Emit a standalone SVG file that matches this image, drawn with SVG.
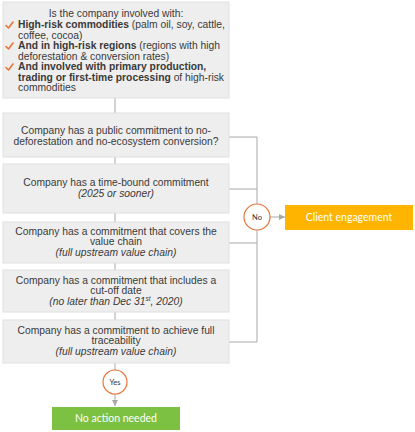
<svg xmlns="http://www.w3.org/2000/svg" width="415" height="432" viewBox="0 0 415 432">
<defs>
<style>
.box{fill:#eeeeee;stroke:#e0e0e0;stroke-width:1}
.t{font-family:"Liberation Sans",Arial,sans-serif;font-size:10.3px;fill:#3a3a3a}
.c{text-anchor:middle}
.b{font-weight:bold}
.i{font-style:italic}
.ln{stroke:#a8a8a8;stroke-width:1;fill:none}
.ck{stroke:#e8743b;stroke-width:1.6;fill:none;stroke-linecap:round;stroke-linejoin:round}
.circ{fill:#ffffff;stroke:#e8743b;stroke-width:1.2}
.lab{font-family:Lato,"Open Sans",sans-serif;font-size:7.5px;fill:#333;text-anchor:middle}
.w{font-family:Lato,"Open Sans",sans-serif;font-size:10.5px;fill:#ffffff;text-anchor:middle}
</style>
<marker id="ah" viewBox="0 0 10 10" refX="10" refY="5" markerWidth="6" markerHeight="6" orient="auto"><path d="M0,0 L10,5 L0,10 z" fill="#a8a8a8"/></marker>
</defs>
<g id="connectors">
<line class="ln" x1="115" y1="98" x2="115" y2="113"/>
<line class="ln" x1="115" y1="157" x2="115" y2="164"/>
<line class="ln" x1="115" y1="213" x2="115" y2="222"/>
<line class="ln" x1="115" y1="263" x2="115" y2="270"/>
<line class="ln" x1="115" y1="312" x2="115" y2="320"/>
<line class="ln" x1="115" y1="363" x2="115" y2="370"/>
<line class="ln" x1="115" y1="394" x2="115" y2="406" marker-end="url(#ah)"/>
<path class="ln" d="M229,137 H257 V342 H229"/>
<line class="ln" x1="229" y1="189" x2="257" y2="189"/>
<line class="ln" x1="229" y1="243" x2="257" y2="243"/>
<line class="ln" x1="270" y1="217" x2="285" y2="217" marker-end="url(#ah)"/>
</g>
<g id="q0">
<rect class="box" x="3" y="2" width="226" height="96"/>
<path class="ck" d="M6,25.5 L8.5,28 L13,22"/>
<path class="ck" d="M6,46.5 L8.5,49 L13,43"/>
<path class="ck" d="M6,67.5 L8.5,70 L13,64"/>
<text class="t c" x="116" y="17">Is the company involved with:</text>
<text class="t" x="18" y="28"><tspan class="b">High-risk commodities</tspan> (palm oil, soy, cattle,</text>
<text class="t" x="18" y="38.5">coffee, cocoa)</text>
<text class="t" x="18" y="49"><tspan class="b">And in high-risk regions</tspan> (regions with high</text>
<text class="t" x="18" y="59.5">deforestation &amp; conversion rates)</text>
<text class="t b" x="18" y="70">And involved with primary production,</text>
<text class="t" x="18" y="80.5"><tspan class="b">trading or first-time processing</tspan> of high-risk</text>
<text class="t" x="18" y="91">commodities</text>
</g>
<g id="q1">
<rect class="box" x="3" y="113" width="226" height="44"/>
<text class="t c" x="116" y="133.5">Company has a public commitment to no-</text>
<text class="t c" x="116" y="145">deforestation and no-ecosystem conversion?</text>
</g>
<g id="q2">
<rect class="box" x="3" y="164" width="226" height="49"/>
<text class="t c" x="116" y="185.5">Company has a time-bound commitment</text>
<text class="t c i" x="116" y="196.5">(2025 or sooner)</text>
</g>
<g id="q3">
<rect class="box" x="3" y="222" width="226" height="41"/>
<text class="t c" x="116" y="234.5">Company has a commitment that covers the</text>
<text class="t c" x="116" y="245">value chain</text>
<text class="t c i" x="116" y="255.5">(full upstream value chain)</text>
</g>
<g id="q4">
<rect class="box" x="3" y="270" width="226" height="42"/>
<text class="t c" x="116" y="283.5">Company has a commitment that includes a</text>
<text class="t c" x="116" y="294">cut-off date</text>
<text class="t c i" x="116" y="304.5">(no later than Dec 31<tspan font-size="6.5" dy="-3.5">st</tspan><tspan dy="3.5">, 2020)</tspan></text>
</g>
<g id="q5">
<rect class="box" x="3" y="320" width="226" height="43"/>
<text class="t c" x="116" y="333.5">Company has a commitment to achieve full</text>
<text class="t c" x="116" y="344">traceability</text>
<text class="t c i" x="116" y="354.5">(full upstream value chain)</text>
</g>
<g id="yes">
<circle class="circ" cx="115" cy="382" r="12"/>
<text class="lab" x="115" y="384.5">Yes</text>
</g>
<g id="no">
<circle class="circ" cx="257" cy="217" r="13"/>
<text class="lab" x="257" y="219.5">No</text>
</g>
<g id="client">
<rect x="285" y="205" width="128" height="25" fill="#ffb400"/>
<text class="w" x="349" y="221">Client engagement</text>
</g>
<g id="noaction">
<rect x="52" y="407" width="128" height="23" fill="#7cc142"/>
<text class="w" x="116" y="422">No action needed</text>
</g>
</svg>
